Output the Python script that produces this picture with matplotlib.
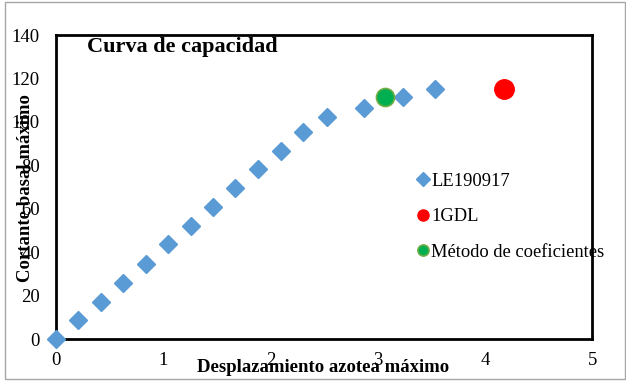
import matplotlib.pyplot as plt
from matplotlib.patches import Rectangle

# datos
desp = [0, 0.205, 0.417, 0.624, 0.836, 1.047, 1.255, 1.466, 1.673, 1.885,
        2.097, 2.307, 2.523, 2.870, 3.234, 3.532]
cortante = [0, 8.7, 17.3, 25.9, 34.8, 43.7, 52.3, 61.0, 69.5, 78.2,
            86.8, 95.2, 102.1, 106.3, 111.6, 115.1]
gdl_x = [4.18]
gdl_y = [115.1]
coef_x = [3.07]
coef_y = [111.6]

plt.rcParams['font.family'] = ['Liberation Serif', 'DejaVu Serif']

fig = plt.figure(figsize=(6.26, 3.81), dpi=100)
fig.patches.append(Rectangle((5 / 626, 2 / 381), 620 / 626, 377 / 381,
                             transform=fig.transFigure, fill=False,
                             edgecolor='#a6a6a6', linewidth=1))
ax = fig.add_axes([56 / 626, 41.7 / 381, 536.3 / 626, 304.3 / 381])

ax.plot(desp, cortante, 'D', color='#5B9BD5', markersize=9,
        linestyle='none', label='LE190917', clip_on=False, zorder=3)
ax.plot(gdl_x, gdl_y, 'o', color='#FF0000', markersize=14,
        linestyle='none', label='1GDL', zorder=3)
ax.plot(coef_x, coef_y, 'o', markerfacecolor='#00B050', markeredgecolor='#70AD47',
        markeredgewidth=1.2, markersize=13, linestyle='none',
        label='Método de coeficientes', zorder=3)

ax.set_xlim(0, 5)
ax.set_ylim(0, 140)
ax.set_xticks([0, 1, 2, 3, 4, 5])
ax.set_yticks(range(0, 141, 20))
ax.tick_params(length=0, labelsize=13.5)
ax.tick_params(axis='y', pad=11.5)
ax.tick_params(axis='x', pad=9)
for s in ax.spines.values():
    s.set_linewidth(2)

fig.text(87 / 626, 1 - 52 / 381, 'Curva de capacidad',
         fontsize=16, fontweight='bold', va='baseline', ha='left')
fig.text(323 / 626, 1 - 367 / 381, 'Desplazamiento azotea máximo',
         fontsize=13.5, fontweight='bold', ha='center', va='center')
fig.text(26 / 626, 1 - 188 / 381, 'Cortante basal máximo', rotation=90,
         fontsize=13.5, fontweight='bold', ha='center', va='center')

leg = ax.legend(frameon=False, loc='upper left', fontsize=13.3,
                bbox_to_anchor=(395 / 626, 1 - 156 / 381),
                bbox_transform=fig.transFigure, handletextpad=-0.15,
                handlelength=1.2, labelspacing=1.0)
for h, ms in zip(leg.legend_handles, [7, 8, 8]):
    h.set_markersize(ms)

plt.savefig('out.png', dpi=100)
